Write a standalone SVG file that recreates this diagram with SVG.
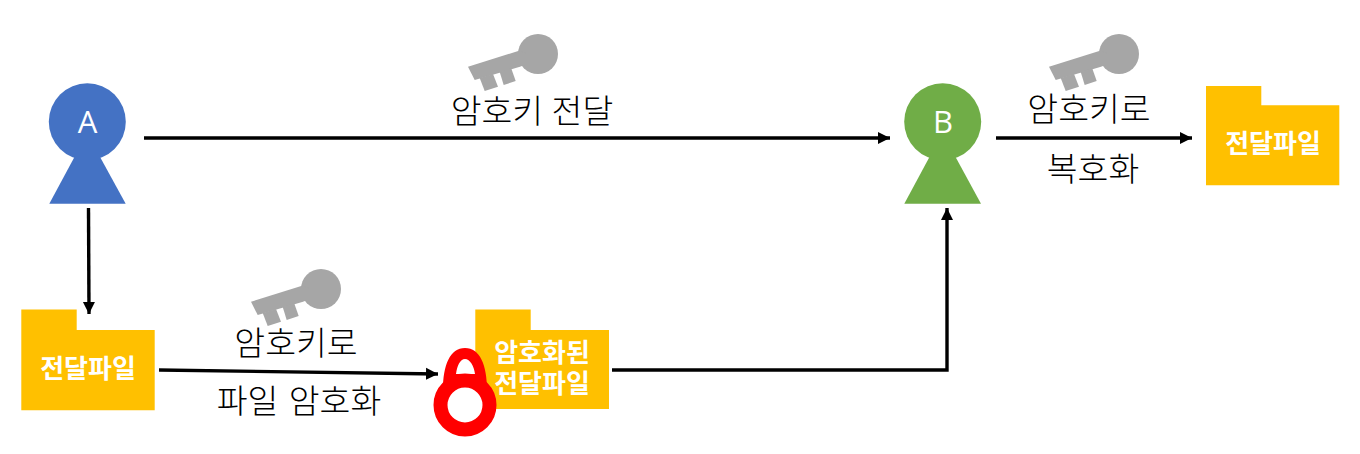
<svg xmlns="http://www.w3.org/2000/svg" width="1360" height="454" viewBox="0 0 1360 454">
<style>
text{font-family:"Noto Sans CJK KR","Noto Sans",sans-serif;text-anchor:middle}
.lab{font-size:33.5px;font-weight:300;fill:#000}
.file{font-size:26px;font-weight:700;fill:#fff;font-family:"Liberation Sans","Noto Sans CJK KR",sans-serif}
.who{font-size:31px;fill:#fff;font-family:"Open Sans","Noto Sans",sans-serif}
.folder{fill:#ffc000}
.key{fill:#a6a6a6}
.conn{fill:none;stroke:#000;stroke-width:3.4}
</style>
<defs>
<marker id="arrow" markerUnits="userSpaceOnUse" markerWidth="13" markerHeight="14" refX="12" refY="7" orient="auto"><path d="M0 1L12 7L0 13Z" fill="#000"/></marker>
<g id="keyshape" class="key">
<circle r="20"/>
<path d="M-70 12.7L-19 -3.3L-10 0L-10 9.5L-18 12.7L-63.3 26Z"/>
<path d="M-58.3 24L-53.3 37L-40 32.7L-45 20Z"/>
<path d="M-38.3 18L-34.3 31L-22.3 27L-26.7 14.5Z"/>
</g>
</defs>
<g id="connectors">
<path class="conn" marker-end="url(#arrow)" d="M144 138H890"/>
<path class="conn" marker-end="url(#arrow)" d="M88.5 208L89 314"/>
<path class="conn" marker-end="url(#arrow)" d="M159 370L438 374"/>
<path class="conn" marker-end="url(#arrow)" d="M612 370H947V208"/>
<path class="conn" marker-end="url(#arrow)" d="M996 138H1192"/>
</g>
<g id="node-a">
<circle cx="87.3" cy="121.7" r="38.5" fill="#4472c4"/>
<path d="M75 156L99.5 156L125.7 203.7H49.3Z" fill="#4472c4"/>
<text class="who" x="87.5" y="133">A</text>
</g>
<g id="node-b">
<circle cx="942.7" cy="121.7" r="38.5" fill="#70ad47"/>
<path d="M930 156L955 156L981 203.7H904.3Z" fill="#70ad47"/>
<text class="who" x="943" y="133">B</text>
</g>
<g id="key-1"><use href="#keyshape" x="538" y="54"/></g>
<g id="key-2"><use href="#keyshape" x="1119" y="54"/></g>
<g id="key-3"><use href="#keyshape" x="321" y="289"/></g>
<g id="label-1"><text class="lab" x="532" y="123" word-spacing="1">암호키 전달</text></g>
<g id="label-2"><text class="lab" x="1089" y="121">암호키로</text><text class="lab" x="1093" y="181">복호화</text></g>
<g id="label-3"><text class="lab" x="296" y="355">암호키로</text><text class="lab" x="299" y="413" word-spacing="3">파일 암호화</text></g>
<g id="file-a">
<path class="folder" d="M21.3 309.5H76.7V330H154.7V410.3H21.3Z"/>
<text class="file" x="88" y="378">전달파일</text>
</g>
<g id="file-enc">
<path class="folder" d="M475.3 309.5H530.7V330H609V409H475.3Z"/>
<text class="file" x="542" y="362">암호화된</text>
<text class="file" x="542" y="393">전달파일</text>
</g>
<g id="file-b">
<path class="folder" d="M1206 86H1261.3V105.3H1339.3V185.3H1206Z"/>
<text class="file" x="1273" y="153">전달파일</text>
</g>
<g id="lock">
<path fill="#f00" fill-rule="evenodd" d="M443 390C443 365 450 348 465 348C480 348 487 365 487 390Z M456 374C457 366 460 359 465 359C470 359 474 366 475 374Z"/>
<circle cx="465" cy="405" r="24.5" fill="#fff" stroke="#f00" stroke-width="14"/>
</g>
</svg>
